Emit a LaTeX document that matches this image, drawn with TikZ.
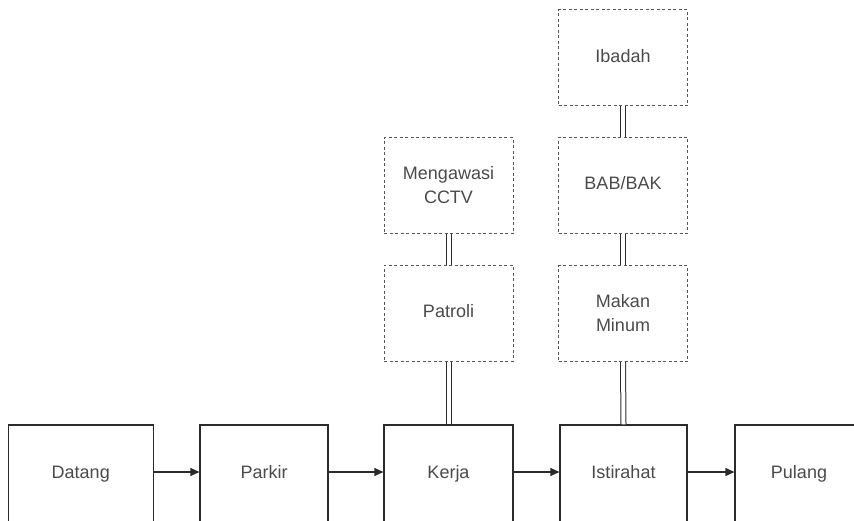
\documentclass[tikz,border=0pt]{standalone}
\usepackage{fontspec}
\setmainfont{Liberation Sans}
\usetikzlibrary{arrows.meta,positioning}
\definecolor{edge}{HTML}{2B2B2B}
\definecolor{label}{HTML}{4A4A4A}
\tikzset{
  oneline/.style={text height=13pt, text depth=4pt},
  mainbox/.style={draw=edge, line width=1.1pt, fill=white, minimum height=98pt,
    text=label, font=\fontsize{18}{22}\selectfont, align=center, inner sep=0pt, oneline},
  subbox/.style={draw=edge!80, line width=1pt, dash pattern=on 3pt off 2.5pt,
    minimum width=129pt, minimum height=96pt, text=label,
    font=\fontsize{18}{24}\selectfont, align=center, inner sep=0pt},
  flow/.style={draw=edge, line width=1.1pt, -{Triangle[length=9pt,width=8pt]}},
  link/.style={draw=edge, line width=1pt, double=white, double distance=4pt}
}
\begin{document}
\begin{tikzpicture}[x=1pt, y=-1pt]
  \useasboundingbox (0,0) rectangle (854,520);
  \clip (0,0) rectangle (854,520);
  % main sequence along the bottom
  \node[mainbox, minimum width=145pt] (datang) at (80.75,474) {Datang};
  \node[mainbox, minimum width=128pt] (parkir) at (264,474) {Parkir};
  \node[mainbox, minimum width=129pt] (kerja) at (448.5,474) {Kerja};
  \node[mainbox, minimum width=127pt] (istirahat) at (623.5,474) {Istirahat};
  \node[mainbox, minimum width=128pt] (pulang) at (799,474) {Pulang};
  % activities during work
  \node[subbox, oneline] (patroli) at (448.5,313) {Patroli};
  \node[subbox] (cctv) at (448.5,185.5) {Mengawasi\\CCTV};
  % activities during the break
  \node[subbox] (makan) at (623,313.5) {Makan\\Minum};
  \node[subbox, oneline] (bab) at (623,185) {BAB/BAK};
  \node[subbox, oneline] (ibadah) at (623,57.5) {Ibadah};
  % flow arrows
  \draw[flow] (datang.east) ++(0,-2) -- ([yshift=2pt]parkir.west);
  \draw[flow] (parkir.east) ++(0,-2) -- ([yshift=2pt]kerja.west);
  \draw[flow] (kerja.east) ++(0,-2) -- ([yshift=2pt]istirahat.west);
  \draw[flow] (istirahat.east) ++(0,-2) -- ([yshift=2pt]pulang.west);
  % double links between stacked activities
  \draw[link] (cctv.south) -- (patroli.north);
  \draw[link] (patroli.south) -- (kerja.north);
  \draw[link] (ibadah.south) -- (bab.north);
  \draw[link] (bab.south) -- (makan.north);
  \draw[link] (makan.south) -- (istirahat.north);
\end{tikzpicture}
\end{document}
